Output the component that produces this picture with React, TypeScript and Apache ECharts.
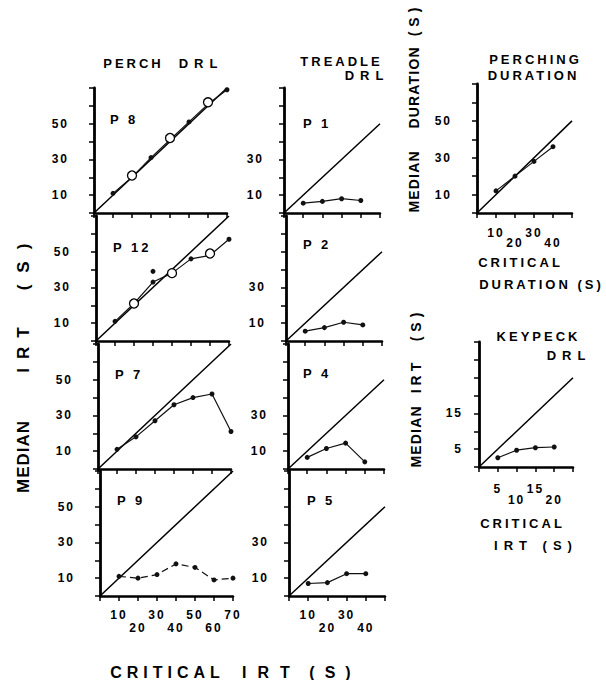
import React, { useEffect, useRef } from "react";
import * as echarts from "echarts";

const FONT = '"Liberation Sans", Helvetica, Arial, sans-serif';

// ---------------- data ----------------
const perchIRT = [10, 20, 30, 40, 50, 60, 70];
const p8Median = [11, 20, 31, 41, 51, 61, 69];
const p8OpenIRT = [20, 40, 60];
const p8OpenMedian = [21, 42, 62];
const p12Median = [11, 21, 33, 38, 46, 48, 57];
const p12OpenIRT = [20, 40, 60];
const p12OpenMedian = [21, 38, 49];
const p12ExtraIRT = [30];
const p12ExtraMedian = [39];
const p7Median = [11, 18, 27, 36, 40, 42, 21];
const p9Median = [11, 10, 12, 18, 16, 9, 10];
const treadleIRT = [10, 20, 30, 40];
const p1Median = [5.5, 6.5, 8, 7];
const p2Median = [5.5, 7.5, 10.5, 9];
const p4Median = [6.5, 11.5, 14.5, 4];
const p5Median = [7, 7.5, 12.5, 12.5];
const criticalDuration = [10, 20, 30, 40];
const medianDuration = [12, 20, 28, 36];
const keypeckIRT = [5, 10, 15, 20];
const keypeckMedian = [2.6, 4.7, 5.4, 5.6];

// ---------------- tick labels ----------------
const col1YLabels = [10, 30, 50];
const col2YLabels = [10, 30];
const col1XRow1 = [10, 30, 50, 70];
const col1XRow2 = [20, 40, 60];
const col2XRow1 = [10, 30];
const col2XRow2 = [20, 40];
const durYLabels = [10, 30, 50];
const durXRow1 = [10, 30];
const durXRow2 = [20, 40];
const keyYLabels = [5, 15];
const keyXRow1 = [5, 15];
const keyXRow2 = [10, 20];

// ---------------- layout ----------------
type Panel = {
  left: number; top: number; width: number; height: number;
  xMax: number; yMax: number; step: number;
  yLab: number[]; xRow1: number[]; xRow2: number[];
  lh: number; xMargin: number; yMargin: number;
};
const c1 = { width: 133, height: 125, xMax: 70, yMax: 70, step: 10, yLab: col1YLabels, lh: 13, xMargin: 12, yMargin: 25 };
const c2 = { width: 96, height: 125, xMax: 50, yMax: 70, step: 10, yLab: col2YLabels, lh: 13, xMargin: 12, yMargin: 20 };
const PANELS: Panel[] = [
  { ...c1, left: 94, top: 88, xRow1: [], xRow2: [] },
  { ...c1, left: 96, top: 216, xRow1: [], xRow2: [] },
  { ...c1, left: 98, top: 344, xRow1: [], xRow2: [] },
  { ...c1, left: 100, top: 471, xRow1: col1XRow1, xRow2: col1XRow2 },
  { ...c2, left: 284, top: 88, xRow1: [], xRow2: [] },
  { ...c2, left: 286, top: 216, xRow1: [], xRow2: [] },
  { ...c2, left: 288, top: 344, xRow1: [], xRow2: [] },
  { ...c2, left: 289, top: 471, xRow1: col2XRow1, xRow2: col2XRow2 },
  { left: 477, top: 84, width: 95, height: 129, xMax: 50, yMax: 70, step: 10, yLab: durYLabels, xRow1: durXRow1, xRow2: durXRow2, lh: 10, xMargin: 15, yMargin: 25 },
  { left: 479, top: 342, width: 94, height: 125, xMax: 25, yMax: 35, step: 5, yLab: keyYLabels, xRow1: keyXRow1, xRow2: keyXRow2, lh: 11, xMargin: 16, yMargin: 16 },
];

const pairs = (xs: number[], ys: number[]) => xs.map((x, i) => [x, ys[i]]);

const lineSeries = (i: number, xs: number[], ys: number[], dashed = false) => ({
  type: "line",
  xAxisIndex: i,
  yAxisIndex: i,
  data: pairs(xs, ys),
  symbol: "circle",
  symbolSize: 5,
  itemStyle: { color: "#111", opacity: 1 },
  lineStyle: { color: "#111", width: 1.2, type: dashed ? [7, 4] : "solid" },
  z: 3,
  silent: true,
});
const diagSeries = (i: number, m: number) => ({
  type: "line",
  xAxisIndex: i,
  yAxisIndex: i,
  data: [[0, 0], [m, m]],
  symbol: "none",
  showSymbol: false,
  lineStyle: { color: "#000", width: 1.5 },
  z: 2,
  silent: true,
});
const openSeries = (i: number, xs: number[], ys: number[]) => ({
  type: "scatter",
  xAxisIndex: i,
  yAxisIndex: i,
  data: pairs(xs, ys),
  symbol: "circle",
  symbolSize: 9,
  itemStyle: { color: "#fff", borderColor: "#000", borderWidth: 1.3, opacity: 1 },
  z: 4,
  silent: true,
});
const dotSeries = (i: number, xs: number[], ys: number[]) => ({
  type: "scatter",
  xAxisIndex: i,
  yAxisIndex: i,
  data: pairs(xs, ys),
  symbol: "circle",
  symbolSize: 5,
  itemStyle: { color: "#111", opacity: 1 },
  z: 4,
  silent: true,
});

// ---------------- texts ----------------
type T = { t: string; x: number; y: number; s: number; ls: number; rot?: boolean; align?: string };
const TEXTS: T[] = [
  { t: "PERCH", x: 132, y: 63, s: 13, ls: 3 },
  { t: "DRL", x: 198, y: 63, s: 13, ls: 6 },
  { t: "TREADLE", x: 340, y: 61, s: 13, ls: 3 },
  { t: "DRL", x: 364, y: 75, s: 13, ls: 6 },
  { t: "PERCHING", x: 534, y: 59, s: 13, ls: 3 },
  { t: "DURATION", x: 532, y: 75, s: 13, ls: 3 },
  { t: "CRITICAL", x: 519, y: 262, s: 13, ls: 3 },
  { t: "DURATION (S)", x: 540, y: 284, s: 13, ls: 3 },
  { t: "KEYPECK", x: 537, y: 336, s: 13, ls: 3 },
  { t: "DRL", x: 566, y: 355, s: 13, ls: 6 },
  { t: "CRITICAL", x: 521, y: 523, s: 13, ls: 3 },
  { t: "IRT (S)", x: 533, y: 545, s: 13, ls: 6 },
  { t: "(S)", x: 414, y: 22, s: 14, ls: 5, rot: true },
  { t: "DURATION", x: 414, y: 88, s: 14, ls: 1.2, rot: true },
  { t: "MEDIAN", x: 414, y: 182, s: 14, ls: 1.2, rot: true },
  { t: "(S)", x: 416, y: 327, s: 14, ls: 5, rot: true },
  { t: "IRT", x: 416, y: 378, s: 14, ls: 4, rot: true },
  { t: "MEDIAN", x: 416, y: 437, s: 14, ls: 1.2, rot: true },
  { t: "(S)", x: 23, y: 267, s: 17, ls: 12, rot: true },
  { t: "IRT", x: 23, y: 350, s: 17, ls: 9, rot: true },
  { t: "MEDIAN", x: 23, y: 457, s: 17, ls: 1, rot: true },
  { t: "CRITICAL", x: 165, y: 672, s: 16, ls: 5 },
  { t: "IRT", x: 266, y: 672, s: 16, ls: 11 },
  { t: "(S)", x: 330, y: 672, s: 16, ls: 10 },
  { t: "P 8", x: 110, y: 119, s: 13, ls: 3, align: "left" },
  { t: "P 12", x: 113, y: 247, s: 13, ls: 3, align: "left" },
  { t: "P 7", x: 115, y: 374, s: 13, ls: 3, align: "left" },
  { t: "P 9", x: 117, y: 500, s: 13, ls: 3, align: "left" },
  { t: "P 1", x: 303, y: 123, s: 13, ls: 3, align: "left" },
  { t: "P 2", x: 303, y: 244, s: 13, ls: 3, align: "left" },
  { t: "P 4", x: 303, y: 373, s: 13, ls: 3, align: "left" },
  { t: "P 5", x: 307, y: 500, s: 13, ls: 3, align: "left" },
];

const LS_MAP: Record<string, number> = {};
TEXTS.forEach((d) => { LS_MAP[d.t + "|" + d.s] = d.ls; });

function buildOption() {
  const grid = PANELS.map((p) => ({ left: p.left, top: p.top, width: p.width, height: p.height, containLabel: false }));
  const labelStyle = { color: "#000", fontFamily: FONT, fontWeight: "bold", fontSize: 12 };
  const xAxis = PANELS.map((p, i) => ({
    type: "value",
    gridIndex: i,
    min: 0,
    max: p.xMax,
    interval: p.step,
    axisLine: { show: true, onZero: false, lineStyle: { color: "#000", width: 2.5 } },
    axisTick: { show: true, length: 5, lineStyle: { color: "#000", width: 1.5 } },
    splitLine: { show: false },
    axisLabel: {
      show: p.xRow1.length > 0,
      margin: p.xMargin,
      lineHeight: p.lh,
      ...labelStyle,
      formatter: (v: number) => (p.xRow1.includes(v) ? String(v) : p.xRow2.includes(v) ? "\n" + v : ""),
    },
  }));
  const yAxis = PANELS.map((p, i) => ({
    type: "value",
    gridIndex: i,
    min: 0,
    max: p.yMax,
    interval: p.step,
    axisLine: { show: true, onZero: false, lineStyle: { color: "#000", width: 2.8 } },
    axisTick: { show: true, length: 5, lineStyle: { color: "#000", width: 1.5 } },
    splitLine: { show: false },
    axisLabel: {
      margin: p.yMargin,
      ...labelStyle,
      formatter: (v: number) => (p.yLab.includes(v) ? String(v) : ""),
    },
  }));
  const series: any[] = [
    diagSeries(0, 70), lineSeries(0, perchIRT, p8Median), openSeries(0, p8OpenIRT, p8OpenMedian),
    diagSeries(1, 70), lineSeries(1, perchIRT, p12Median), openSeries(1, p12OpenIRT, p12OpenMedian), dotSeries(1, p12ExtraIRT, p12ExtraMedian),
    diagSeries(2, 70), lineSeries(2, perchIRT, p7Median),
    diagSeries(3, 70), lineSeries(3, perchIRT, p9Median, true),
    diagSeries(4, 50), lineSeries(4, treadleIRT, p1Median),
    diagSeries(5, 50), lineSeries(5, treadleIRT, p2Median),
    diagSeries(6, 50), lineSeries(6, treadleIRT, p4Median),
    diagSeries(7, 50), lineSeries(7, treadleIRT, p5Median),
    diagSeries(8, 50), lineSeries(8, criticalDuration, medianDuration),
    diagSeries(9, 25), lineSeries(9, keypeckIRT, keypeckMedian),
  ];
  const elements = TEXTS.map((d) => {
    const center = d.align !== "left";
    let x = d.x;
    let y = d.y;
    if (center) {
      if (d.rot) y -= d.ls / 2;
      else x += d.ls / 2;
    }
    return {
      type: "text",
      x,
      y,
      rotation: d.rot ? Math.PI / 2 : 0,
      silent: true,
      style: {
        text: d.t,
        fill: "#000",
        fontFamily: FONT,
        fontWeight: "bold",
        fontSize: d.s,
        align: center ? "center" : "left",
        verticalAlign: "middle",
      },
    };
  });
  return {
    animation: false,
    backgroundColor: "#fff",
    grid,
    xAxis,
    yAxis,
    series,
    graphic: { elements },
  };
}

export default function App() {
  const ref = useRef<HTMLDivElement>(null);
  useEffect(() => {
    const el = ref.current;
    if (!el) return;
    const chart = echarts.init(el, null, { renderer: "svg" });
    chart.setOption(buildOption() as any);
    const apply = () => {
      try {
        el.querySelectorAll("text").forEach((t) => {
          const txt = (t.textContent || "").trim();
          if (!txt) return;
          const fs = Math.round(parseFloat(getComputedStyle(t).fontSize) * 2) / 2;
          let ls = LS_MAP[txt + "|" + fs];
          if (ls === undefined && /^\d+$/.test(txt)) ls = 2;
          if (ls) (t as any).style.letterSpacing = ls + "px";
        });
      } catch (e) {}
    };
    apply();
    chart.on("finished", apply);
    const timer = setTimeout(apply, 60);
    return () => {
      clearTimeout(timer);
      chart.dispose();
    };
  }, []);
  return (
    <div
      ref={ref}
      style={{ position: "absolute", left: 0, top: 0, width: 606, height: 680, background: "#fff" }}
    />
  );
}
